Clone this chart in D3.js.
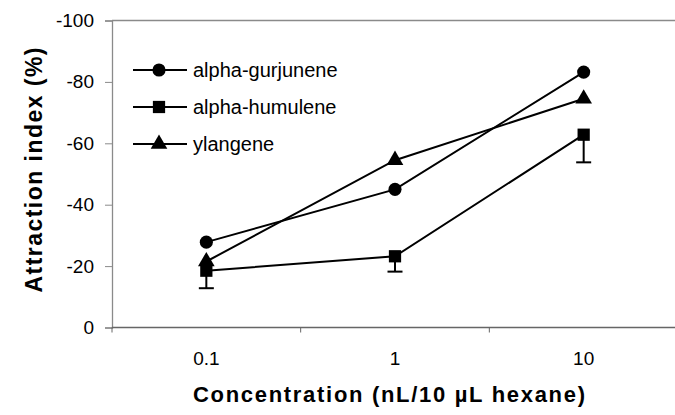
<!DOCTYPE html>
<html>
<head>
	<title>Attraction index</title>
	<script src="https://d3js.org/d3.v7.min.js"></script>
	<style>
	body { margin: 0; background: #fff; }
	text { font-family: Arial, "Liberation Sans", sans-serif; }
	</style>
</head>
<body>
</body>
<script type="text/javascript">

// data
const concentrations = ["0.1", "1", "10"]
const yTicks = [0, -20, -40, -60, -80, -100]
const gurjunene = [-27.8, -45, -83.2]
const humulene = [-18.5, -23.2, -62.8]
const humuleneErr = [5.7, 5.0, 9.0]
const ylangene = [-21.5, -54.5, -74.5]

const seriesNames = ["alpha-gurjunene", "alpha-humulene", "ylangene"]
const seriesValues = [gurjunene, humulene, ylangene]
const seriesShapes = [d3.symbolCircle, d3.symbolSquare, d3.symbolTriangle]
const shapeSizes = [135, 150, 120]

const width = 675
const height = 415

const svg = d3.select("body").append("svg")
	.attr("width", width)
	.attr("height", height)

// scales
const x = d3.scaleBand()
	.domain(concentrations)
	.range([112, 678])

const y = d3.scaleLinear()
	.domain([0, -100])
	.range([327.5, 20.5])

const cx = function(i) { return x(concentrations[i]) + x.bandwidth() / 2 }

// top frame line
svg.append("line")
	.attr("x1", 112).attr("x2", width)
	.attr("y1", y(-100)).attr("y2", y(-100))
	.attr("stroke", "#8a8a8a")
	.attr("stroke-width", 1.3)

// y axis
const yAxis = svg.append("g")
	.attr("transform", "translate(112,0)")
	.call(d3.axisLeft(y).tickValues(yTicks).tickSize(7).tickPadding(11).tickFormat(d3.format("d")))
yAxis.select(".domain").attr("stroke", "#8a8a8a").attr("stroke-width", 1.3)
yAxis.selectAll(".tick line").attr("stroke", "#8a8a8a")
yAxis.selectAll("text")
	.attr("font-size", "19px")
	.attr("fill", "#000")
	.text(function(d) { return d == 0 ? "0" : d })

// x axis, ticks sit between the categories
const xAxis = svg.append("g")
	.attr("transform", "translate(0," + y(0) + ")")
	.call(d3.axisBottom(x).tickSize(0).tickPadding(24))
xAxis.select(".domain").remove()
xAxis.selectAll("text")
	.attr("font-size", "19px")
	.attr("fill", "#000")

svg.append("line")
	.attr("x1", 112).attr("x2", width)
	.attr("y1", y(0)).attr("y2", y(0))
	.attr("stroke", "#666")
	.attr("stroke-width", 1.3)

svg.selectAll(".xtick")
	.data(concentrations)
	.enter()
	.append("line")
	.attr("class", "xtick")
	.attr("x1", function(d) { return x(d) })
	.attr("x2", function(d) { return x(d) })
	.attr("y1", y(0))
	.attr("y2", y(0) + 5)
	.attr("stroke", "#666")

// error bars (downward only)
humulene.forEach(function(v, i) {
	const g = svg.append("g").attr("stroke", "#000").attr("stroke-width", 2)
	g.append("line")
		.attr("x1", cx(i)).attr("x2", cx(i))
		.attr("y1", y(v)).attr("y2", y(v + humuleneErr[i]))
	g.append("line")
		.attr("x1", cx(i) - 7.5).attr("x2", cx(i) + 7.5)
		.attr("y1", y(v + humuleneErr[i])).attr("y2", y(v + humuleneErr[i]))
})

// series lines and markers
const line = d3.line()
	.x(function(d, i) { return cx(i) })
	.y(function(d) { return y(d) })

seriesValues.forEach(function(vals, s) {
	svg.append("path")
		.datum(vals)
		.attr("d", line)
		.attr("fill", "none")
		.attr("stroke", "#000")
		.attr("stroke-width", 2)

	svg.selectAll(".m" + s)
		.data(vals)
		.enter()
		.append("path")
		.attr("class", "m" + s)
		.attr("d", d3.symbol().type(seriesShapes[s]).size(shapeSizes[s]))
		.attr("transform", function(d, i) { return "translate(" + cx(i) + "," + y(d) + ")" })
		.attr("fill", "#000")
})

// legend
const legend = svg.append("g")
seriesNames.forEach(function(name, s) {
	const ly = 70 + s * 37
	legend.append("line")
		.attr("x1", 133).attr("x2", 187)
		.attr("y1", ly).attr("y2", ly)
		.attr("stroke", "#000")
		.attr("stroke-width", 2)
	legend.append("path")
		.attr("d", d3.symbol().type(seriesShapes[s]).size(shapeSizes[s]))
		.attr("transform", "translate(159," + ly + ")")
		.attr("fill", "#000")
	legend.append("text")
		.attr("x", 193)
		.attr("y", ly + 7)
		.attr("font-size", "20px")
		.text(name)
})

// axis titles
svg.append("text")
	.attr("transform", "translate(42,170) rotate(-90)")
	.attr("text-anchor", "middle")
	.attr("font-size", "23px")
	.attr("font-weight", "bold")
	.attr("textLength", 245)
	.attr("lengthAdjust", "spacing")
	.text("Attraction index (%)")

svg.append("text")
	.attr("x", 193)
	.attr("y", 402)
	.attr("font-size", "22px")
	.attr("font-weight", "bold")
	.attr("textLength", 392)
	.attr("lengthAdjust", "spacing")
	.text("Concentration (nL/10 µL hexane)")

</script>
</html>
